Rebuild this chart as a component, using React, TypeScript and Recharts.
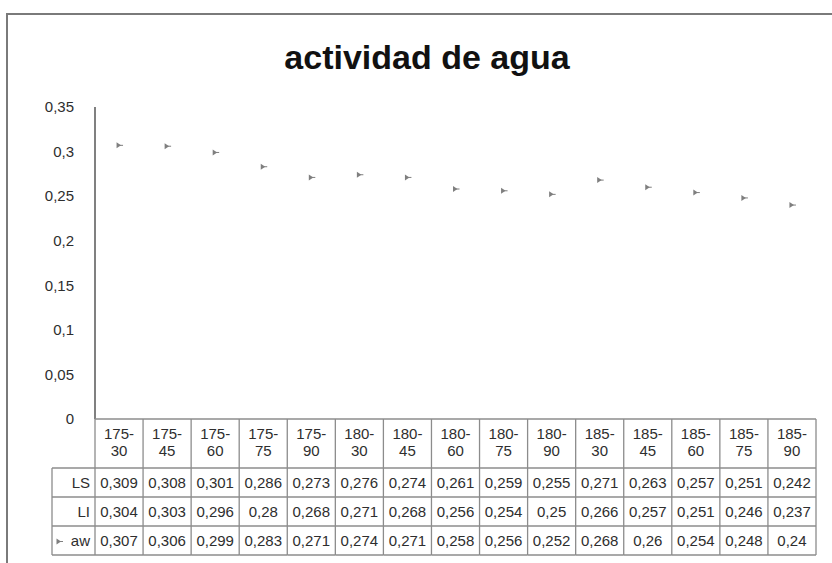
import React from 'react';
import { ComposedChart, Line, XAxis, YAxis } from 'recharts';

const categories = ['175-30', '175-45', '175-60', '175-75', '175-90', '180-30', '180-45', '180-60', '180-75', '180-90', '185-30', '185-45', '185-60', '185-75', '185-90'];
const lsValues = [0.309, 0.308, 0.301, 0.286, 0.273, 0.276, 0.274, 0.261, 0.259, 0.255, 0.271, 0.263, 0.257, 0.251, 0.242];
const liValues = [0.304, 0.303, 0.296, 0.28, 0.268, 0.271, 0.268, 0.256, 0.254, 0.25, 0.266, 0.257, 0.251, 0.246, 0.237];
const awValues = [0.307, 0.306, 0.299, 0.283, 0.271, 0.274, 0.271, 0.258, 0.256, 0.252, 0.268, 0.26, 0.254, 0.248, 0.24];
const yTicks = [0, 0.05, 0.1, 0.15, 0.2, 0.25, 0.3, 0.35];
const rowLabels = ['LS', 'LI', 'aw'];
const rowValues = [lsValues, liValues, awValues];
const title = 'actividad de agua';

const data = categories.map((c, i) => ({ cat: c, LS: lsValues[i], LI: liValues[i], aw: awValues[i] }));

const W = 832;
const H = 563;
const PLOT_LEFT = 95;
const PLOT_RIGHT = 816;
const PLOT_TOP = 107;
const PLOT_BOTTOM = 419;
const COL_W = (PLOT_RIGHT - PLOT_LEFT) / categories.length;
const HEADER_H = 49;
const ROW_H = 29;
const LABEL_LEFT = 52;
const GRID = '#8c8c8c';
const TXT = '#2e2e2e';
const FONT = 'Liberation Sans, Arial, sans-serif';
const FS = 15;
const MARK = '#7f7f7f';

const fmt = (v: number) => String(v).replace('.', ',');

const Marker = ({ cx, cy }: { cx: number; cy: number }) => (
  <g>
    <path d={`M${cx - 2.5},${cy - 3} L${cx + 2},${cy} L${cx - 2.5},${cy + 3} Z`} fill={MARK} />
    <line x1={cx} y1={cy} x2={cx + 4} y2={cy} stroke={MARK} strokeWidth={1} />
  </g>
);

const TableTick = (props: any) => {
  const { x, index, payload } = props;
  const top = PLOT_BOTTOM;
  const left = x - COL_W / 2;
  const right = x + COL_W / 2;
  const parts = String(payload.value).split('-');
  const bottom = top + HEADER_H + ROW_H * rowLabels.length;
  return (
    <g>
      <text x={x} y={top + 20} textAnchor="middle" fontFamily={FONT} fontSize={FS} fill={TXT}>{parts[0] + '-'}</text>
      <text x={x} y={top + 37} textAnchor="middle" fontFamily={FONT} fontSize={FS} fill={TXT}>{parts[1]}</text>
      <line x1={right} y1={top} x2={right} y2={bottom} stroke={GRID} strokeWidth={1.3} />
      {index === 0 && <line x1={left} y1={top} x2={left} y2={bottom} stroke={GRID} strokeWidth={1.3} />}
      {rowLabels.map((r, ri) => {
        const ry = top + HEADER_H + ri * ROW_H;
        return (
          <g key={r}>
            <line x1={index === 0 ? LABEL_LEFT : left} y1={ry} x2={right} y2={ry} stroke={GRID} strokeWidth={1.3} />
            <text x={x} y={ry + ROW_H / 2} dy="0.36em" textAnchor="middle" fontFamily={FONT} fontSize={FS} fill={TXT}>
              {fmt(rowValues[ri][index])}
            </text>
            {index === 0 && (
              <text x={left - 5} y={ry + ROW_H / 2} dy="0.36em" textAnchor="end" fontFamily={FONT} fontSize={FS} fill={TXT}>
                {r}
              </text>
            )}
            {index === 0 && r === 'aw' && <Marker cx={LABEL_LEFT + 7} cy={ry + ROW_H / 2 + 1} />}
          </g>
        );
      })}
      <line x1={index === 0 ? LABEL_LEFT : left} y1={bottom} x2={right} y2={bottom} stroke={GRID} strokeWidth={1.3} />
      {index === 0 && <line x1={LABEL_LEFT} y1={top + HEADER_H} x2={LABEL_LEFT} y2={bottom} stroke={GRID} strokeWidth={1.3} />}
    </g>
  );
};

export default function App() {
  return (
    <div style={{ position: 'absolute', left: 0, top: 0, width: W, height: H, background: '#ffffff', overflow: 'hidden' }}>
      <div style={{ position: 'absolute', left: 6, top: 13, width: W, height: H, borderTop: '2px solid #7a7a7a', borderLeft: '2px solid #7a7a7a' }} />
      <div
        style={{
          position: 'absolute',
          left: 0,
          width: 854,
          top: 37,
          textAlign: 'center',
          fontFamily: 'Liberation Sans, Arial, sans-serif',
          fontWeight: 'bold',
          fontSize: 34,
          color: '#111',
          lineHeight: '40px',
        }}
      >
        {title}
      </div>
      <div style={{ position: 'absolute', left: 0, top: 0 }}>
        <ComposedChart
          width={W}
          height={H}
          data={data}
          margin={{ top: PLOT_TOP, right: W - PLOT_RIGHT, bottom: 0, left: 0 }}
        >
          <YAxis
            width={PLOT_LEFT}
            domain={[0, 0.35]}
            ticks={yTicks}
            type="number"
            tickLine={false}
            tickSize={0}
            tickMargin={21}
            axisLine={{ stroke: '#808080', strokeWidth: 2 }}
            tickFormatter={fmt}
            tick={{ fontFamily: FONT, fontSize: FS, fill: TXT }}
            interval={0}
          />
          <XAxis
            dataKey="cat"
            type="category"
            scale="band"
            height={H - PLOT_BOTTOM}
            interval={0}
            tickLine={false}
            tickSize={0}
            tickMargin={0}
            axisLine={{ stroke: GRID, strokeWidth: 1.3 }}
            tick={<TableTick />}
          />
          <Line
            dataKey="aw"
            stroke="none"
            isAnimationActive={false}
            dot={(p: any) => <Marker key={p.index} cx={p.cx} cy={p.cy} />}
            activeDot={false}
          />
        </ComposedChart>
      </div>
    </div>
  );
}
